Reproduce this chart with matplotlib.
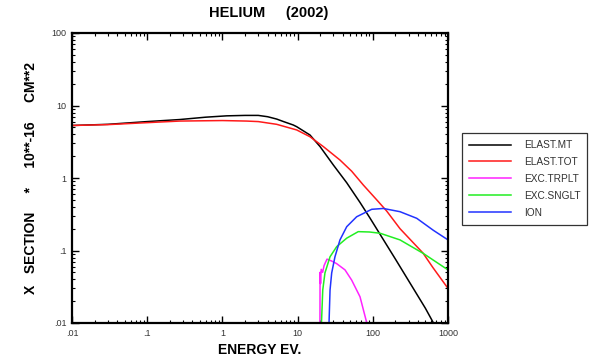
import matplotlib
matplotlib.use("Agg")
import matplotlib.pyplot as plt
from matplotlib.ticker import FixedLocator, LogLocator, NullFormatter

plt.rcParams['font.family'] = ['Liberation Sans', 'DejaVu Sans']

# ELAST.MT
e_mt = [0.01, 0.03, 0.1, 0.27, 0.6, 1.14, 2.0, 3.0, 4.0, 5.27, 6.5, 8.77, 9.73, 14.6, 19.9, 29.9, 45, 67.6, 91.8, 200, 500, 631]
v_mt = [5.3, 5.5, 6.0, 6.4, 6.9, 7.2, 7.3, 7.3, 7.0, 6.5, 6.0, 5.38, 5.1, 3.92, 2.71, 1.51, 0.86, 0.46, 0.28, 0.076, 0.016, 0.0103]
# ELAST.TOT
e_tot = [0.01, 0.03, 0.1, 0.27, 1.0, 2.1, 3.0, 5.27, 9.73, 14.6, 22, 36.6, 52.4, 74.8, 112.7, 153, 230, 466, 631, 1000]
v_tot = [5.3, 5.45, 5.8, 6.1, 6.2, 6.1, 6.0, 5.5, 4.6, 3.71, 2.71, 1.77, 1.24, 0.8, 0.5, 0.35, 0.2, 0.092, 0.058, 0.030]
# EXC.TRPLT
e_trp = [19.82, 19.9, 20.2, 20.6, 21.5, 22.5, 24.6, 28, 33, 42.7, 52.4, 67.6, 83, 88]
v_trp = [0.01, 0.05, 0.035, 0.055, 0.05, 0.062, 0.076, 0.072, 0.066, 0.054, 0.039, 0.023, 0.0101, 0.009]
# EXC.SNGLT
e_sng = [20.6, 21.6, 23.1, 27, 33.1, 45, 64, 90, 125, 230, 470, 1000]
v_sng = [0.008, 0.0285, 0.049, 0.082, 0.113, 0.148, 0.182, 0.18, 0.173, 0.14, 0.091, 0.054]
# ION
e_ion = [26.0, 27, 28.4, 31.4, 36.6, 45, 61, 96.7, 138, 230, 384, 638, 1000]
v_ion = [0.008, 0.0285, 0.049, 0.082, 0.14, 0.213, 0.292, 0.37, 0.38, 0.343, 0.278, 0.19, 0.14]

series = [
    ("ELAST.MT", e_mt, v_mt, "black"),
    ("ELAST.TOT", e_tot, v_tot, "#ff1a1a"),
    ("EXC.TRPLT", e_trp, v_trp, "#ff22ff"),
    ("EXC.SNGLT", e_sng, v_sng, "#22ee22"),
    ("ION", e_ion, v_ion, "#2233ff"),
]

x_ticks = [0.01, 0.1, 1, 10, 100, 1000]
x_labels = [".01", ".1", "1", "10", "100", "1000"]
y_ticks = [0.01, 0.1, 1, 10, 100]
y_labels = [".01", ".1", "1", "10", "100"]

fig = plt.figure(figsize=(5.92, 3.62), dpi=100)
ax = fig.add_axes([72/592, 1-323/362, 376/592, 290/362])
for name, e, v, c in series:
    ax.plot(e, v, color=c, lw=1.1, label=name)

ax.set_xscale('log')
ax.set_yscale('log')
ax.set_xlim(0.01, 1000)
ax.set_ylim(0.01, 100)
ax.xaxis.set_major_locator(FixedLocator(x_ticks))
ax.set_xticklabels(x_labels)
ax.yaxis.set_major_locator(FixedLocator(y_ticks))
ax.set_yticklabels(y_labels)
ax.xaxis.set_minor_locator(LogLocator(base=10, subs=range(2, 10), numticks=20))
ax.yaxis.set_minor_locator(LogLocator(base=10, subs=range(2, 10), numticks=20))
ax.xaxis.set_minor_formatter(NullFormatter())
ax.yaxis.set_minor_formatter(NullFormatter())
ax.tick_params(which='both', direction='in', top=True, right=True, labelsize=6.5, colors='black', labelcolor='#333333')
ax.tick_params(which='major', length=5, width=1.0)
ax.tick_params(which='minor', length=2.5, width=0.8)
ax.tick_params(axis='x', pad=4)
ax.tick_params(axis='y', pad=4)
for s in ax.spines.values():
    s.set_linewidth(1.6)

fig.text(268.5/592, 0.963, "HELIUM     (2002)", ha='center', va='center', fontsize=10.5, fontweight='bold')
ax.set_xlabel("ENERGY EV.", fontsize=10, fontweight='bold', labelpad=4)
ax.set_ylabel("X   SECTION     *     10**-16     CM**2", fontsize=10, fontweight='bold', labelpad=10)

leg = ax.legend(loc='upper left', bbox_to_anchor=(462/592, 1-133/362), bbox_transform=fig.transFigure,
                fontsize=7.3, frameon=True, fancybox=False, edgecolor='black', handlelength=4.1,
                handletextpad=1.3, labelspacing=0.68, borderpad=0.7, borderaxespad=0)
leg.get_frame().set_linewidth(0.9)
for t in leg.get_texts():
    t.set_color('#333333')

fig.savefig("out.png", dpi=100)
